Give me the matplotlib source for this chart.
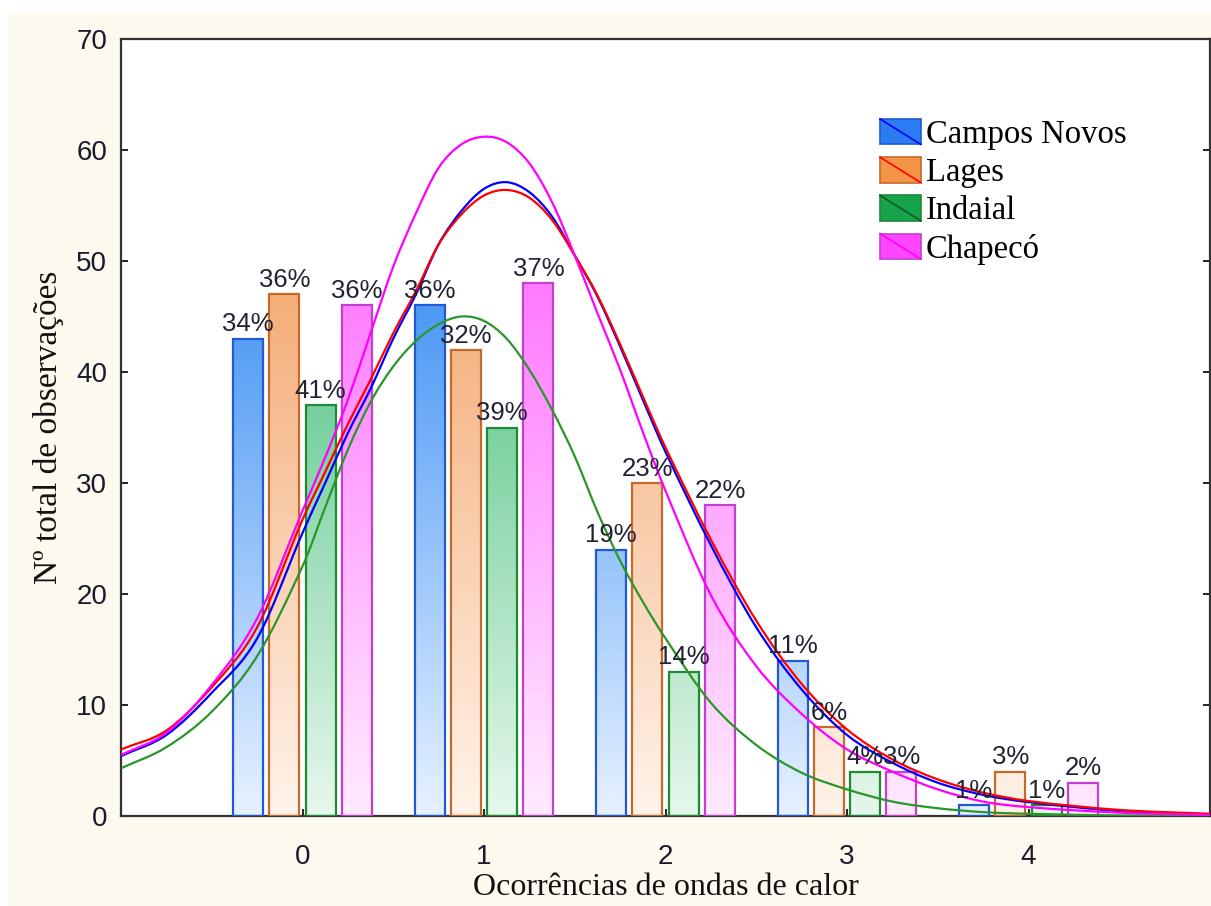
import numpy as np
import matplotlib
matplotlib.use("Agg")
import matplotlib.pyplot as plt
from matplotlib.colors import LinearSegmentedColormap
from matplotlib.patches import Rectangle, PathPatch
from matplotlib.path import Path
from matplotlib.lines import Line2D
from matplotlib.legend_handler import HandlerBase

# dados
categorias = [0, 1, 2, 3, 4]
series = ["Campos Novos", "Lages", "Indaial", "Chapecó"]
campos_novos = [43, 46, 24, 14, 1]
lages = [47, 42, 30, 8, 4]
indaial = [37, 35, 13, 4, 1]
chapeco = [46, 48, 28, 4, 3]
pct_campos_novos = ["34%", "36%", "19%", "11%", "1%"]
pct_lages = ["36%", "32%", "23%", "6%", "3%"]
pct_indaial = ["41%", "39%", "14%", "4%", "1%"]
pct_chapeco = ["36%", "37%", "22%", "3%", "2%"]

# curvas ajustadas
x_curva = [-1, -0.75, -0.5, -0.25, 0, 0.125, 0.25, 0.375, 0.5, 0.625, 0.75, 0.875,
           1.0, 1.125, 1.25, 1.375, 1.5, 1.625, 1.75, 1.875, 2.0, 2.25, 2.5, 2.75,
           3.0, 3.25, 3.5, 3.75, 4.0, 4.5, 5.0]
curva_campos_novos = [5.4, 7.3, 11.1, 16.0, 25.5, 30.0, 34.5, 38.5, 43.0, 47.0, 51.5, 54.5,
                      56.5, 57.1, 56.2, 54.0, 50.5, 46.8, 42.3, 37.5, 32.8, 24.4, 17.0, 11.4,
                      7.3, 4.8, 3.0, 1.9, 1.25, 0.45, 0.15]
curva_lages = [6.0, 7.7, 11.6, 17.0, 26.7, 31.0, 35.3, 39.3, 43.5, 47.3, 51.5, 54.2,
               55.9, 56.4, 55.7, 53.7, 50.5, 46.9, 42.5, 37.8, 33.2, 24.9, 17.6, 11.9,
               7.8, 5.1, 3.3, 2.1, 1.35, 0.55, 0.2]
curva_indaial = [4.3, 6.2, 9.4, 14.4, 22.5, 27.8, 33.0, 37.3, 40.5, 42.8, 44.3, 45.0,
                 44.6, 43.0, 40.2, 36.6, 32.4, 27.4, 23.0, 19.3, 16.0, 10.2, 6.4, 3.9,
                 2.4, 1.3, 0.7, 0.35, 0.2, 0.05, 0.02]
curva_chapeco = [5.5, 7.5, 11.8, 17.8, 27.5, 32.3, 37.5, 43.5, 49.5, 54.3, 58.4, 60.5,
                 61.2, 60.7, 58.8, 55.3, 50.5, 45.3, 40.2, 34.6, 29.3, 19.9, 13.5, 9.2,
                 6.0, 4.0, 2.4, 1.3, 0.8, 0.3, 0.1]

valores = [campos_novos, lages, indaial, chapeco]
rotulos = [pct_campos_novos, pct_lages, pct_indaial, pct_chapeco]
curvas = [curva_campos_novos, curva_lages, curva_indaial, curva_chapeco]

offsets = [-0.3, -0.1, 0.1, 0.3]
largura = 0.165
topo = ["#4796f4", "#f4ad78", "#55c486", "#ff7cff"]
base = ["#e6f1ff", "#fff3e9", "#e6f7ec", "#ffeaff"]
borda = ["#2259d6", "#c46a2a", "#1e8a32", "#c23fd0"]
cor_linha = ["#0000ff", "#ff0000", "#2a962a", "#ff00ff"]
cor_legenda = ["#2a7cf2", "#f59445", "#17a24c", "#ff45ff"]


def curva_suave(xs, ys):
    # liga os pontos lidos com segmentos de Bezier (Hermite), so para o desenho
    xs = np.asarray(xs, float)
    ys = np.asarray(ys, float)
    n = len(xs)
    m = np.empty(n)
    m[0] = (ys[1] - ys[0]) / (xs[1] - xs[0])
    m[-1] = (ys[-1] - ys[-2]) / (xs[-1] - xs[-2])
    m[1:-1] = (ys[2:] - ys[:-2]) / (xs[2:] - xs[:-2])
    verts = [(xs[0], ys[0])]
    codes = [Path.MOVETO]
    for k in range(n - 1):
        h = xs[k + 1] - xs[k]
        verts += [(xs[k] + h / 3, ys[k] + m[k] * h / 3),
                  (xs[k + 1] - h / 3, ys[k + 1] - m[k + 1] * h / 3),
                  (xs[k + 1], ys[k + 1])]
        codes += [Path.CURVE4] * 3
    return Path(verts, codes)


fig = plt.figure(figsize=(12.11, 9.06), dpi=100, facecolor="white")
fig.patches.append(Rectangle((8 / 1211, 0), 1, (906 - 13) / 906, transform=fig.transFigure,
                             facecolor="#fdf9ef", edgecolor="none", zorder=-10))
ax = fig.add_axes([121 / 1211, 1 - 816 / 906, (1210 - 121) / 1211, (816 - 39) / 906])
ax.set_facecolor("white")

for i in range(4):
    cmap = LinearSegmentedColormap.from_list("g%d" % i, [base[i], topo[i]])
    for j, c in enumerate(categorias):
        h = valores[i][j]
        x0 = c + offsets[i] - largura / 2
        grad = np.linspace(0, h, 50).reshape(-1, 1)
        im = ax.imshow(grad, cmap=cmap, vmin=0, vmax=48, origin="lower", aspect="auto",
                       extent=[x0, x0 + largura, 0, h], zorder=2, interpolation="bilinear")
        r = Rectangle((x0, 0), largura, h, facecolor="none", edgecolor=borda[i], lw=1.6, zorder=3)
        ax.add_patch(r)
        im.set_clip_path(r)
        ax.text(c + offsets[i], h + 0.2, rotulos[i][j], ha="center", va="bottom",
                fontsize=18.5, color="#222233", family="Liberation Sans", zorder=5)

for i in range(4):
    ax.add_patch(PathPatch(curva_suave(x_curva, curvas[i]), facecolor="none",
                           edgecolor=cor_linha[i], lw=1.6, zorder=4))

ax.set_xlim(-1, 5)
ax.set_ylim(0, 70)
ax.set_xticks(categorias)
ax.set_yticks(range(0, 71, 10))
ax.tick_params(direction="in", length=5, width=1.2, right=True, labelsize=20,
               labelcolor="#1a1a2a")
ax.tick_params(axis="x", pad=20)
ax.tick_params(axis="y", pad=10)
for lab in ax.get_xticklabels() + ax.get_yticklabels():
    lab.set_family("Liberation Sans")
for s in ax.spines.values():
    s.set_color("#333333")
    s.set_linewidth(1.6)

ax.set_xlabel("Ocorrências de ondas de calor", family="Liberation Serif", fontsize=23,
              color="#111111", labelpad=2)
ax.set_ylabel("Nº total de observações", family="Liberation Serif", fontsize=24,
              color="#111111", labelpad=9)


class HandlerDiag(HandlerBase):
    def __init__(self, face, edge, line):
        super().__init__()
        self.face, self.edge, self.line = face, edge, line

    def create_artists(self, legend, orig, xd, yd, w, h, fontsize, trans):
        r = Rectangle((-xd, -yd), w, h, facecolor=self.face, edgecolor=self.edge, lw=1.2,
                      transform=trans)
        l = Line2D([-xd, -xd + w], [-yd + h, -yd], color=self.line, lw=1.2, transform=trans)
        return [r, l]


handles = [Rectangle((0, 0), 1, 1) for _ in series]
hmap = {handles[i]: HandlerDiag(cor_legenda[i], borda[i], cor_linha[i] if i != 2 else "#0d5a25")
        for i in range(4)}
leg = ax.legend(handles, series, handler_map=hmap, loc="upper left",
                bbox_to_anchor=((880 - 121) / 1089, (816 - 119) / 777), frameon=False,
                prop={"family": "Liberation Serif", "size": 23.5}, borderpad=0,
                handlelength=1.25, handleheight=0.82, handletextpad=0.15, labelspacing=0.22,
                borderaxespad=0)

fig.savefig("out.png", dpi=100, facecolor=fig.get_facecolor())
